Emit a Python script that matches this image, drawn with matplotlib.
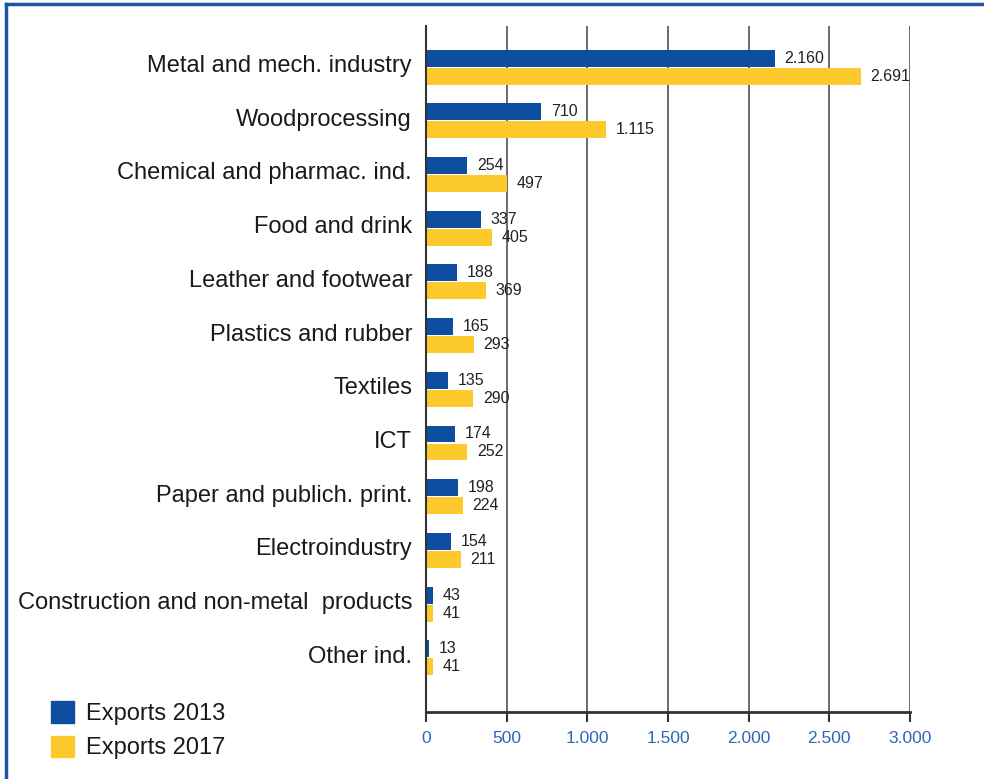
import matplotlib
matplotlib.use('Agg')
import matplotlib.pyplot as plt
from matplotlib.patches import Patch
from matplotlib.lines import Line2D
from matplotlib.ticker import FuncFormatter
import numpy as np

plt.rcParams['font.family'] = ['Liberation Sans', 'DejaVu Sans']

# exports by industry, in millions
categories = ['Metal and mech. industry', 'Woodprocessing', 'Chemical and pharmac. ind.',
              'Food and drink', 'Leather and footwear', 'Plastics and rubber', 'Textiles',
              'ICT', 'Paper and publich. print.', 'Electroindustry',
              'Construction and non-metal  products', 'Other ind.']
exports_2013 = [2160, 710, 254, 337, 188, 165, 135, 174, 198, 154, 43, 13]
exports_2017 = [2691, 1115, 497, 405, 369, 293, 290, 252, 224, 211, 41, 41]
x_ticks = [0, 500, 1000, 1500, 2000, 2500, 3000]

blue = '#0d4ea1'
yellow = '#fdca2e'
frame_blue = '#1c54a6'

fig = plt.figure(figsize=(9.84, 7.79), dpi=100)
ax = fig.add_axes([0.4329, 0.086, 0.4919, 0.8806])

y = np.arange(len(categories))
h = 0.315
b1 = ax.barh(y - h / 2 + 0.01, exports_2013, height=h, color=blue, left=3)
b2 = ax.barh(y + h / 2 + 0.03, exports_2017, height=h, color=yellow, left=3)


def fmt(v):
    return f'{v:,}'.replace(',', '.')


for bars, vals in ((b1, exports_2013), (b2, exports_2017)):
    for r, v in zip(bars, vals):
        ax.annotate(fmt(v), (r.get_x() + r.get_width(), r.get_y() + r.get_height() / 2),
                    xytext=(7, 0), textcoords='offset points', va='center', ha='left',
                    fontsize=11.5, color='#222222')

ax.set_ylim(len(categories) - 1 + 1.03, -0.745)
ax.set_xlim(0, 3000)
ax.set_yticks(y)
ax.set_yticklabels(categories, fontsize=17, color='#1a1a1a', va='center')
ax.tick_params(axis='y', length=0, pad=10)

ax.set_xticks(x_ticks)
ax.xaxis.set_major_formatter(FuncFormatter(lambda v, p: fmt(int(v))))
ax.tick_params(axis='x', length=7, width=1.5, color='#333333', pad=7,
               labelsize=12.5, labelcolor='#2f66b8')

ax.grid(axis='x', color='#444444', linewidth=1.1)
ax.set_axisbelow(True)
for s in ('top', 'right'):
    ax.spines[s].set_visible(False)
ax.spines['left'].set_color('#333333')
ax.spines['left'].set_linewidth(1.5)
ax.spines['bottom'].set_color('#333333')
ax.spines['bottom'].set_linewidth(2)

handles = [Patch(color=blue, label='Exports 2013'), Patch(color=yellow, label='Exports 2017')]
fig.legend(handles=handles, loc='lower left', bbox_to_anchor=(0.03, -0.002),
           frameon=False, fontsize=17, handlelength=1.0, handleheight=1.0,
           handletextpad=0.5, labelspacing=0.45, labelcolor='#1a1a1a')

# blue frame along top and left edges
fig.add_artist(Line2D([0.006, 1.0], [0.995, 0.995], color=frame_blue, lw=2.5,
                      transform=fig.transFigure))
fig.add_artist(Line2D([0.006, 0.006], [0.0, 0.995], color=frame_blue, lw=2.5,
                      transform=fig.transFigure))

fig.savefig('out.png', dpi=100)
